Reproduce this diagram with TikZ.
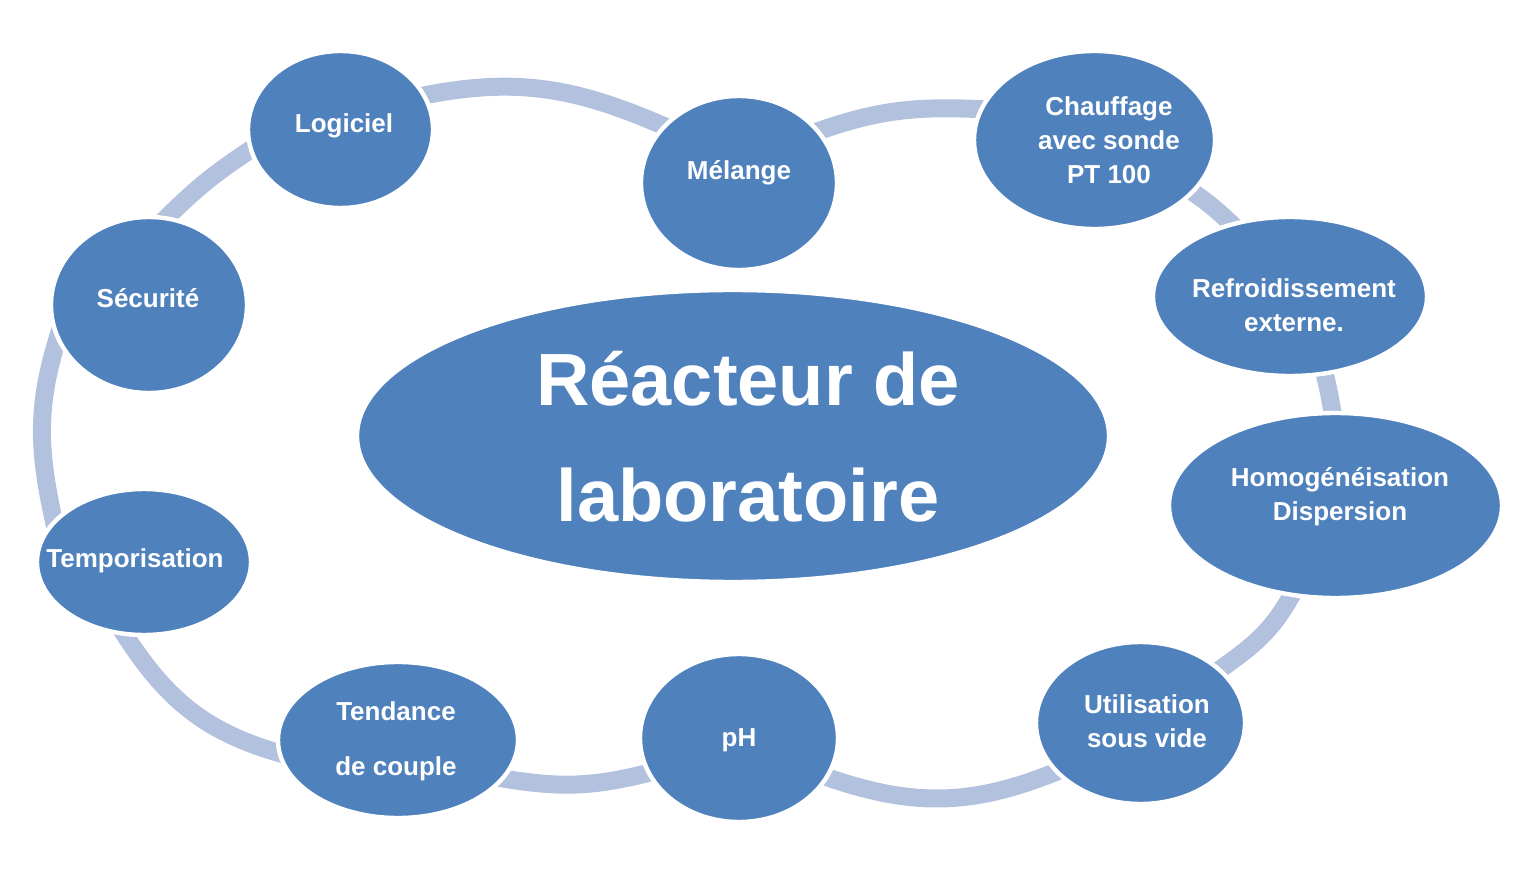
\documentclass[tikz,border=0pt]{standalone}
\usepackage{fontspec}
\setmainfont{Liberation Sans}
\usetikzlibrary{positioning,shapes,backgrounds}
\definecolor{cycleblue}{RGB}{79,129,189}
\definecolor{ringblue}{RGB}{178,193,221}

\begin{document}
\begin{tikzpicture}[x=0.5pt, y=0.5pt,
    spot/.style={ellipse, fill=cycleblue, draw=white, line width=2.2pt, inner sep=0pt},
    spottext/.style={text=white, font=\bfseries\fontsize{13}{17}\selectfont, align=center, inner sep=0pt},
    ring/.style={draw=ringblue, line width=9pt, shorten <=-6pt, shorten >=-6pt}]
    \useasboundingbox (0,0) rectangle (1538,874);

    % Central reactor
    \node[spot, minimum width=376pt, minimum height=146pt] (reacteur) at (733,438) {};
    \node[spottext, font=\bfseries\fontsize{37}{58}\selectfont] (reacteur-txt) at (748,437) {Réacteur de\\laboratoire};

    % Ellipses around the reactor
    \foreach \name/\x/\y/\w/\h in {logiciel/340.5/744.5/92.5/78.5, melange/739/691/98/87,
        chauffage/1094.5/734/120.5/89, refroid/1290/577.5/137/79.5, homog/1335.5/368.5/166.5/92.5,
        util/1140.5/151/104.5/81, ph/739/136/99/84, tendance/398/134/120/78,
        tempo/144/312/107/73, securite/149/569/98/88}
        \node[spot, minimum width=\w pt, minimum height=\h pt] (\name) at (\x,\y) {};

    % Labels
    \foreach \name/\x/\y/\txt in {logiciel/344/748/Logiciel, melange/739/701/Mélange,
        chauffage/1109/734/{Chauffage\\avec sonde\\PT 100}, refroid/1294/569/{Refroidissement\\externe.},
        homog/1340/377/{Homogénéisation\\Dispersion}, util/1147/153/{Utilisation\\sous vide},
        ph/739/134/pH, tendance/396/132.5/{Tendance\\[10.5pt]de couple},
        tempo/135/313/Temporisation, securite/148/576/Sécurité}
        \node[spottext] (\name-txt) at (\x,\y) {\txt};

    % Ring segments
    \begin{scope}[on background layer]
        \draw[ring] (logiciel.22) to[out=12,in=156] (melange.143);
        \draw[ring] (melange.33) to[out=20,in=177] (chauffage.165);
        \draw[ring] (chauffage.332) to[out=-33,in=137] (refroid.129);
        \draw[ring] (refroid.294) to[out=-75,in=100] (homog.92);
        \draw[ring] (homog.244) to[out=243,in=35] (util.34);
        \draw[ring] (util.210) to[out=203,in=-20] (ph.336);
        \draw[ring] (ph.201) to[out=195,in=-10] (tendance.340);
        \draw[ring] (tendance.186) to[out=165,in=-58] (tempo.256);
        \draw[ring] (tempo.155) to[out=103,in=-108] (securite.201);
        \draw[ring] (securite.78) to[out=45,in=-147] (logiciel.193);
    \end{scope}
\end{tikzpicture}
\end{document}
